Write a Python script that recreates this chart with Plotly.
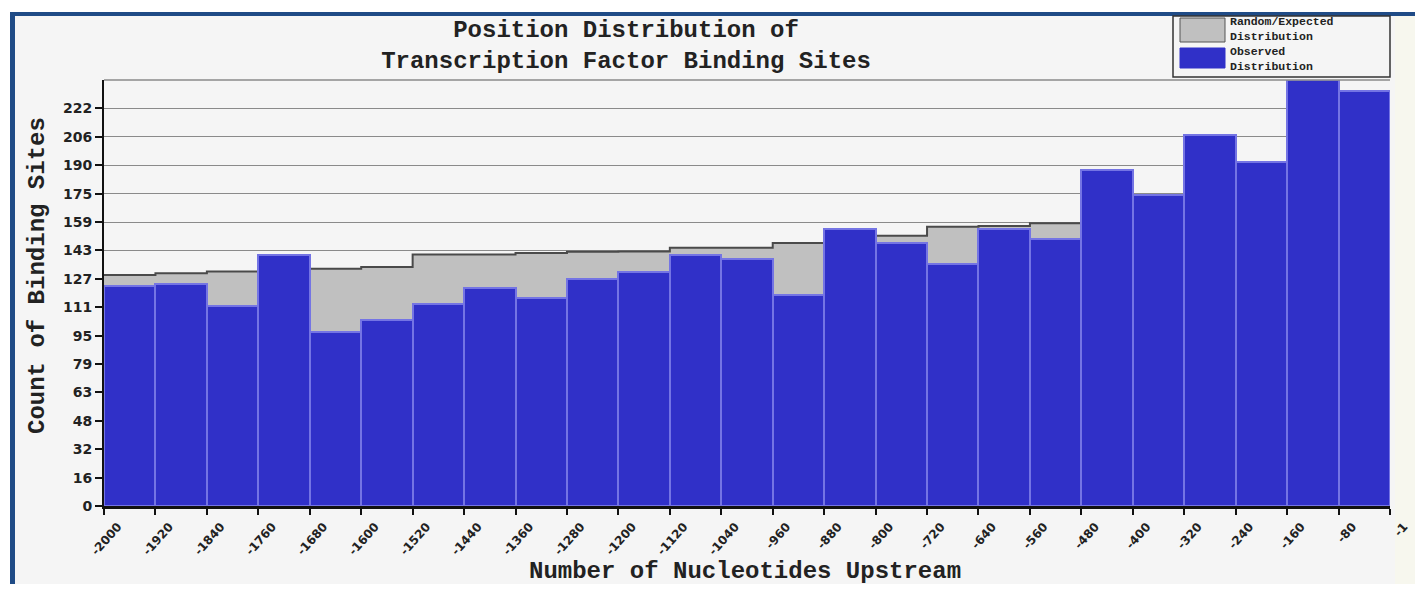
import plotly.graph_objects as go

# ---------------- data ----------------
bin_start = [-2000, -1920, -1840, -1760, -1680, -1600, -1520, -1440, -1360, -1280,
             -1200, -1120, -1040, -960, -880, -800, -720, -640, -560, -480,
             -400, -320, -240, -160, -80]
bin_end = 0
observed = [123, 124, 112, 140, 97, 104, 113, 122, 116, 127,
            131, 140, 138, 118, 155, 147, 135, 155, 149, 188,
            174, 207, 192, 238, 232]
expected = [129, 130, 131, 132, 132.5, 133.5, 140.5, 140.5, 141.3, 142,
            142.2, 144.3, 144.3, 147, 149, 151, 156, 156.5, 158, 159.5,
            161, 162.5, 164, 165.5, 167]
x_tick_text = ["-2000", "-1920", "-1840", "-1760", "-1680", "-1600", "-1520", "-1440",
               "-1360", "-1280", "-1200", "-1120", "-1040", "-960", "-880", "-800",
               "-720", "-640", "-560", "-480", "-400", "-320", "-240", "-160", "-80", "-1"]
y_tick_text = ["0", "16", "32", "48", "63", "79", "95", "111", "127", "143",
               "159", "175", "190", "206", "222"]
legend_labels = ["Random/Expected<br>Distribution", "Observed<br>Distribution"]
Y_MAX = 238
N_DIV = 15

# ---------------- layout geometry (reference pixels) ----------------
OFF = 8                      # page body margin
VW, VH = 1423, 592           # viewport
W, H = VW - 2 * OFF, VH - 2 * OFF
PL, PR, PT, PB = 104, 1390, 80, 506   # plot area in reference pixels
L, T = PL - OFF, PT - OFF
R, B = (OFF + W) - PR, (OFF + H) - PB


def px(x):
    return (x - PL) / (PR - PL)


def py(y):
    return (PB - y) / (PB - PT)


MONO = "Liberation Mono, Courier New, monospace"
SANS = "DejaVu Sans, Verdana, sans-serif"
BIN_W = bin_start[1] - bin_start[0]
GREY = "#c0c0c0"
BLUE = "#3030c8"

fig = go.Figure()
fig.add_trace(go.Bar(
    x=bin_start, y=expected, width=BIN_W, offset=0,
    marker=dict(color=GREY, line=dict(width=0)),
    name="Random/Expected Distribution", showlegend=False,
))
fig.add_trace(go.Scatter(
    x=bin_start + [bin_end], y=expected + [expected[-1]],
    mode="lines", line=dict(shape="hv", color="#4a4a4a", width=2),
    showlegend=False, hoverinfo="skip",
))
fig.add_trace(go.Bar(
    x=bin_start, y=observed, width=BIN_W, offset=0, yaxis="y2",
    marker=dict(color=BLUE, line=dict(width=2, color="#7474e4")),
    name="Observed Distribution", showlegend=False,
))


def rect(x0, x1, y0, y1, fill, line=None, layer="below"):
    return dict(type="rect", xref="paper", yref="paper",
                x0=px(x0), x1=px(x1), y0=py(y1), y1=py(y0),
                fillcolor=fill, line=line or dict(width=0), layer=layer)


shapes = [
    rect(15, 1395, 16, VH, "#f5f5f5"),
    rect(1395, VW, 16, VH, "#f7f7ee"),
    rect(10, VW, 12, 16, "#1f4b86"),
    rect(10, 15, 12, VH, "#1f4b86"),
    dict(type="line", xref="paper", yref="paper", x0=0, x1=1, y0=1, y1=1,
         line=dict(color="#8a8a8a", width=1.5)),
    # legend box and swatches
    rect(1173, 1390, 16, 77, "#f5f5f5", dict(color="#333", width=1.5), layer="above"),
    rect(1180, 1225, 18, 42, GREY, dict(color="#555", width=1), layer="above"),
    rect(1180, 1225, 48, 68, BLUE, dict(color=BLUE, width=1), layer="above"),
]

annotations = [
    dict(text="<b>Count of Binding Sites</b>", textangle=-90, xref="paper", yref="paper",
         x=px(37), y=py(276), showarrow=False, font=dict(family=MONO, size=24, color="#222"),
         xanchor="center", yanchor="middle"),
    dict(text="<b>Number of Nucleotides Upstream</b>", xref="paper", yref="paper",
         x=px(745), y=py(571), showarrow=False, font=dict(family=MONO, size=24, color="#222"),
         xanchor="center", yanchor="middle"),
]
legend_item_y = [29, 59]
for lab, yy in zip(legend_labels, legend_item_y):
    annotations.append(dict(text="<b>" + lab + "</b>", xref="paper", yref="paper",
                            x=px(1229), y=py(yy), xanchor="left", yanchor="middle",
                            align="left", showarrow=False, borderpad=0,
                            font=dict(family=MONO, size=11.5, color="#222")))

fig.update_layout(
    width=W, height=H,
    margin=dict(l=L, r=R, t=T, b=B, pad=0, autoexpand=False),
    paper_bgcolor="white", plot_bgcolor="rgba(0,0,0,0)",
    barmode="overlay", bargap=0,
    title=dict(text="<b>Position Distribution of<br>Transcription Factor Binding Sites</b>",
               x=px(626), xref="paper", xanchor="center",
               y=1 - (37 - OFF) / H, yref="container", yanchor="middle",
               font=dict(family=MONO, size=24, color="#222")),
    showlegend=False,
    shapes=shapes, annotations=annotations,
    xaxis=dict(range=[bin_start[0], bin_end], tickmode="array", automargin=False,
               tickvals=bin_start + [bin_end],
               ticktext=["<b>" + t + "</b>" for t in x_tick_text],
               tickangle=-48, ticklabelshift=14, ticklabeloverflow="allow",
               ticks="outside", ticklen=6, tickwidth=1.5, tickcolor="#111",
               showline=True, linecolor="#111", linewidth=3, showgrid=False, zeroline=False,
               tickfont=dict(family=SANS, size=12, color="#222")),
    yaxis=dict(range=[0, Y_MAX], tickmode="array", automargin=False,
               tickvals=[i * Y_MAX / N_DIV for i in range(len(y_tick_text))],
               ticktext=["<b>" + t + "</b>" for t in y_tick_text],
               ticks="outside", ticklen=7, tickwidth=1.5, tickcolor="#111",
               showline=True, linecolor="#111", linewidth=2,
               showgrid=True, gridcolor="#8a8a8a", gridwidth=1, zeroline=False,
               tickfont=dict(family=SANS, size=14, color="#222")),
    yaxis2=dict(range=[0, Y_MAX], overlaying="y", visible=False, showgrid=False,
                zeroline=False, automargin=False),
)

fig.write_html("out.html")
